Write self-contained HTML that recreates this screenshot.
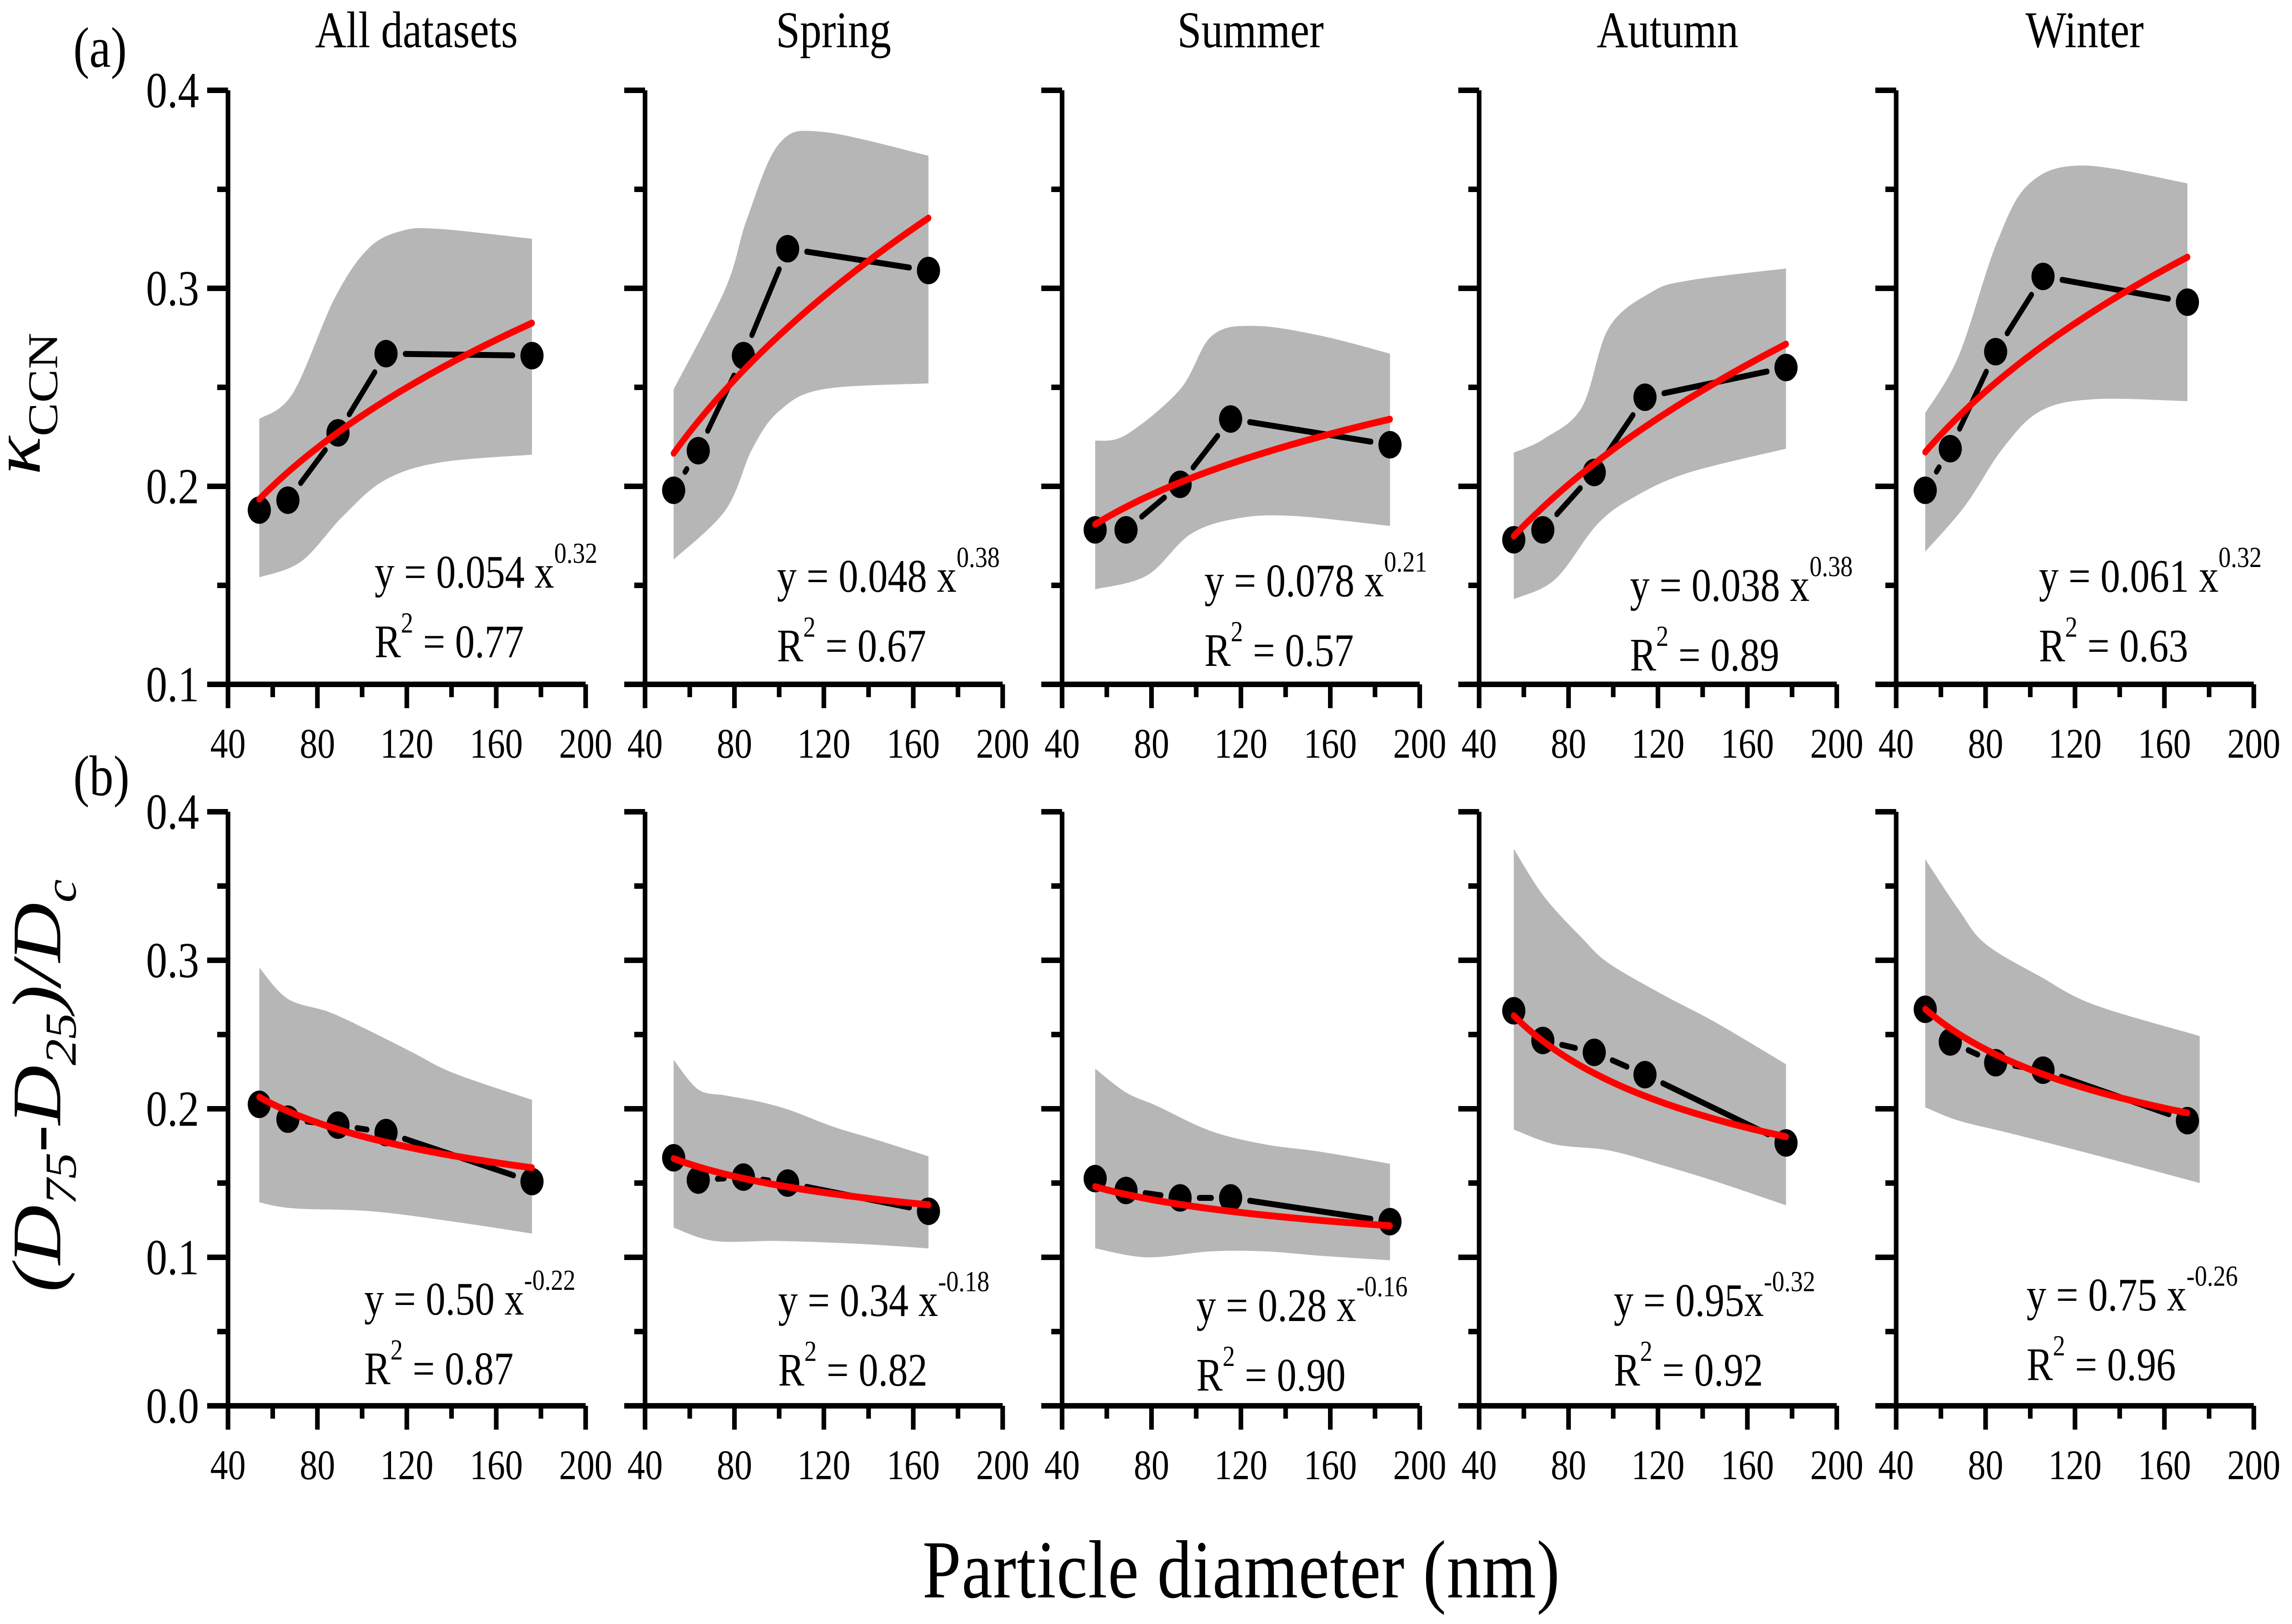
<!DOCTYPE html>
<html><head><meta charset="utf-8"><style>
html,body{margin:0;padding:0;background:#fff;width:100%;height:100%;overflow:hidden}
svg{display:block;width:100vw;height:100vh}
svg text{font-family:"Liberation Serif","Times New Roman",serif;fill:#000}
</style></head><body>
<svg id="fig" viewBox="0 0 5941 3543" preserveAspectRatio="none" xmlns="http://www.w3.org/2000/svg" font-family="Liberation Serif, serif">
<text x="190" y="146" font-size="125">(a)</text>
<text x="190" y="1735" font-size="125">(b)</text>
<text transform="translate(103,1036) rotate(-90)" font-size="175"><tspan font-style="italic">κ</tspan><tspan font-size="110" dy="45">CCN</tspan></text>
<text transform="translate(156,2819) rotate(-90)" font-size="180" font-style="italic">(D<tspan font-size="115" dy="40">75</tspan><tspan dy="-40">-D</tspan><tspan font-size="115" dy="40">25</tspan><tspan dy="-40">)/D</tspan><tspan font-size="115" dy="40">c</tspan></text>
<text x="3217" y="3485" font-size="180" text-anchor="middle" textLength="1652">Particle diameter (nm)</text>
<g id="plots"></g>
</svg>
<script>
const titles=["All datasets","Spring","Summer","Autumn","Winter"];
// Top row: kappa
const kX=[[54,66.8,89.2,110.7,176],[52.8,63.8,84,103.8,166.8],[54.8,68.6,92.8,115.4,186.7],[55.5,68.5,91.5,114.2,177.3],[53,64.2,84.5,105.7,170.3]];
const kY=[[0.188,0.193,0.227,0.267,0.266],[0.198,0.218,0.266,0.320,0.309],[0.178,0.178,0.201,0.234,0.221],[0.173,0.178,0.207,0.245,0.260],[0.198,0.219,0.268,0.306,0.293]];
const kBandX=[[54,69,87.7,102.7,117.7,134.5,176],[52.8,76,85.6,100,119.5,166.8],[54.8,68.6,92.8,107,126.5,155.9,186.7],[55.5,69,86,98,117,134,177.3],[53,68,85,99.7,123.9,170.3]];
const kUpper=[[0.234,0.247,0.295,0.320,0.329,0.330,0.325],[0.249,0.300,0.335,0.373,0.379,0.367],[0.223,0.226,0.249,0.276,0.281,0.276,0.267],[0.217,0.224,0.240,0.280,0.298,0.304,0.310],[0.237,0.266,0.323,0.353,0.362,0.353]];
const kBandXL=[[54,72.7,91.5,110,134.5,176],[52.8,76,88,100,119.5,166.8],[54.8,78,97.7,119.5,143.8,186.7],[55.5,74,93,110,134,177.3],[53,70.7,87.6,104.5,128.7,170.3]];
const kLower=[[0.154,0.162,0.185,0.203,0.212,0.216],[0.163,0.188,0.219,0.238,0.249,0.252],[0.148,0.155,0.176,0.184,0.185,0.180],[0.143,0.153,0.181,0.195,0.207,0.219],[0.167,0.190,0.219,0.238,0.244,0.243]];
const kFitA=[0.054,0.048,0.078,0.038,0.061];
const kFitB=[0.32,0.38,0.21,0.38,0.32];
const kR2=["0.77","0.67","0.57","0.89","0.63"];
const kEqA=["0.054","0.048","0.078","0.038","0.061"];
const kEqB=["0.32","0.38","0.21","0.38","0.32"];
// Bottom row: (D75-D25)/Dc
const wX=kX;
const wY=[[0.203,0.193,0.189,0.184,0.151],[0.167,0.152,0.154,0.150,0.131],[0.153,0.145,0.140,0.140,0.124],[0.266,0.246,0.238,0.223,0.177],[0.267,0.245,0.231,0.226,0.192]];
const wBandX=[[54,66.8,85.5,104,122.5,141,176],[52.8,63.8,76,90.4,105,124,143.8,166.8],[54.8,68.6,82.3,106.6,130.9,155.9,186.7],[55.5,69,86,98,122,146,177.3],[53,68,80,104.5,128.7,175.8]];
const wUpper=[[0.295,0.274,0.265,0.252,0.238,0.224,0.206],[0.233,0.213,0.209,0.205,0.199,0.188,0.179,0.168],[0.227,0.211,0.202,0.185,0.176,0.171,0.163],[0.375,0.343,0.315,0.298,0.277,0.258,0.230],[0.368,0.334,0.311,0.289,0.270,0.249]];
const wBandXL=[[54,69,104,141,176],[52.8,71,100,136.5,166.8],[54.8,78,106.6,130.9,155.9,186.7],[55.5,74,98,122,146,177.3],[53,68,92.4,128.7,175.8]];
const wLower=[[0.137,0.133,0.131,0.124,0.116],[0.120,0.111,0.111,0.109,0.106],[0.106,0.100,0.104,0.104,0.101,0.098],[0.186,0.176,0.172,0.162,0.151,0.135],[0.201,0.192,0.183,0.169,0.150]];
const wFitA=[0.50,0.34,0.28,0.95,0.75];
const wFitB=[-0.22,-0.18,-0.16,-0.32,-0.26];
const wR2=["0.87","0.82","0.90","0.92","0.96"];
const wEqA=["0.50 ","0.34 ","0.28 ","0.95","0.75 "];
const wEqB=["-0.22","-0.18","-0.16","-0.32","-0.26"];
const xTicks=[40,80,120,160,200];
const kTicks=["0.1","0.2","0.3","0.4"];
const wTicks=["0.0","0.1","0.2","0.3","0.4"];

const NS="http://www.w3.org/2000/svg";
const root=document.getElementById('plots');
function mk(tag,attrs,parent){const e=document.createElementNS(NS,tag);for(const k in attrs)e.setAttribute(k,attrs[k]);(parent||root).appendChild(e);return e;}
const PX0=591, PSTEP=1081, PW=927;
const eqDx=[380,342,369,391,370], eqDxB=[353,345,348,349,338];
const eqBaseT=[1282,1291,1301,1311,1291], eqBaseB=[2868,2871,2882,2871,2859];

function smoothPath(pts){
  let d="M"+pts[0][0]+","+pts[0][1];
  for(let i=0;i<pts.length-1;i++){
    const p0=pts[Math.max(0,i-1)],p1=pts[i],p2=pts[i+1],p3=pts[Math.min(pts.length-1,i+2)];
    const c1=[p1[0]+(p2[0]-p0[0])/6,p1[1]+(p2[1]-p0[1])/6];
    const c2=[p2[0]-(p3[0]-p1[0])/6,p2[1]-(p3[1]-p1[1])/6];
    d+=" C"+c1+" "+c2+" "+p2;
  }
  return d;
}
function panel(k,row){
  const x0=PX0+PSTEP*k;
  const top=row?1771:197, bot=row?3067:1493;
  const ymin=row?0:0.1, ymax=0.4;
  const sx=v=>x0+(v-40)/160*PW;
  const sy=v=>bot-(v-ymin)/(ymax-ymin)*(bot-top);
  const g=mk('g',{});
  
  
  const BX=row?wBandX[k]:kBandX[k], BU=row?wUpper[k]:kUpper[k], BXL=row?wBandXL[k]:kBandXL[k], BL=row?wLower[k]:kLower[k];
  const up=BX.map((x,i)=>[sx(x),sy(BU[i])]);
  const lo=BXL.map((x,i)=>[sx(x),sy(BL[i])]).reverse();
  let d=smoothPath(up)+" L"+lo[0]+" "+smoothPath(lo).slice(1)+" Z";
  const band=mk('path',{d:d,fill:'#b6b6b6'},g);
  
  
  const X=row?wX[k]:kX[k], Y=row?wY[k]:kY[k];
  const r=30, gap=14;
  for(let i=0;i<X.length-1;i++){
    const ax=sx(X[i]),ay=sy(Y[i]),bx=sx(X[i+1]),by=sy(Y[i+1]);
    const L=Math.hypot(bx-ax,by-ay);const off=r+gap+6;
    if(L<=2*off) continue;
    const ux=(bx-ax)/L,uy=(by-ay)/L;
    const seg=mk('line',{x1:ax+ux*off,y1:ay+uy*off,x2:bx-ux*off,y2:by-uy*off,stroke:'#000','stroke-width':13,'stroke-linecap':'round'},g);
    
    
  }
  for(let i=0;i<X.length;i++){
    const c=mk('circle',{cx:sx(X[i]),cy:sy(Y[i]),r:r,fill:'#000'},g);
    
    
  }
  const A=row?wFitA[k]:kFitA[k], B=row?wFitB[k]:kFitB[k];
  let fd="";const n=60;
  for(let i=0;i<=n;i++){const x=X[0]+(X[X.length-1]-X[0])*i/n;fd+=(i?"L":"M")+sx(x).toFixed(1)+","+sy(A*Math.pow(x,B)).toFixed(1);}
  const fit=mk('path',{d:fd,fill:'none',stroke:'#ff0000','stroke-width':15,'stroke-linecap':'round'},g);
  
  
  const ax=mk('path',{d:`M${x0},${top} L${x0},${bot} L${x0+PW},${bot}`,fill:'none',stroke:'#000','stroke-width':12,'stroke-linejoin':'miter'},g);
  
  
  for(let v=40;v<=200;v+=20){
    const maj=(v%40===0);
    const t=mk('line',{x1:sx(v),y1:bot,x2:sx(v),y2:bot+(maj?52:28),stroke:'#000','stroke-width':12},g);
    
    
  }
  xTicks.forEach(v=>{
    const t=mk('text',{x:sx(v),y:bot+160,'font-size':92,'text-anchor':'middle'},g);t.textContent=v;
    
    
  });
  for(let v=ymin;v<=ymax+1e-9;v+=0.05){
    const maj=Math.abs(Math.round(v*10)-v*10)<1e-6;
    const t=mk('line',{x1:x0-(maj?54:28),y1:sy(v),x2:x0,y2:sy(v),stroke:'#000','stroke-width':12},g);
    
    
  }
  if(k===0){
    (row?wTicks:kTicks).forEach(s=>{
      const t=mk('text',{x:x0-75,y:sy(parseFloat(s))+37,'font-size':110,'text-anchor':'end'},g);t.textContent=s;
      
      
    });
  }
  if(!row){
    const t=mk('text',{x:x0+PW/2+25,y:103,'font-size':112,'text-anchor':'middle'},g);t.textContent=titles[k];
    
    
  }
  const ex=x0+(row?eqDxB[k]:eqDx[k]), eb=row?eqBaseB[k]:eqBaseT[k];
  const eq=mk('text',{x:ex,y:eb,'font-size':102},g);
  
  
  const t1=mk('tspan',{},eq);t1.textContent="y = "+(row?wEqA[k]:kEqA[k]+" ")+"x";
  const t2=mk('tspan',{'font-size':64,dy:-54},eq);t2.textContent=row?wEqB[k]:kEqB[k];
  const r2=mk('text',{x:ex,y:eb+152,'font-size':102},g);
  
  
  const s1=mk('tspan',{},r2);s1.textContent="R";
  const s2=mk('tspan',{'font-size':64,dy:-54},r2);s2.textContent="2";
  const s3=mk('tspan',{dy:54},r2);s3.textContent=" = "+(row?wR2[k]:kR2[k]);
}
for(let k=0;k<5;k++){panel(k,0);panel(k,1);}
</script>
</body></html>
